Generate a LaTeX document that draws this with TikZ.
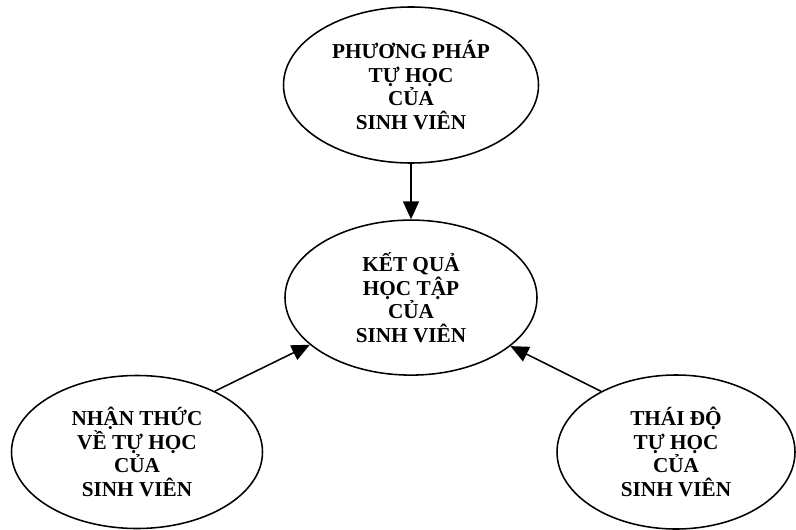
\documentclass[tikz,border=0pt]{standalone}
\usepackage{fontspec}
\setmainfont{Liberation Serif}
\usetikzlibrary{shapes.geometric, arrows.meta}

\begin{document}
\begin{tikzpicture}
        \tikzstyle{bubble}=[ellipse, draw=black, line width=1.1pt, inner sep=0pt, align=center, font=\fontsize{15.1}{16.7}\selectfont\bfseries];
        \tikzstyle{link}=[-{Triangle[length=0.45cm, width=0.4cm]}, line width=1.1pt];

        \useasboundingbox (0, 0) rectangle (19.9, -13.225);

        \node[bubble, minimum width=6.3cm, minimum height=3.875cm] (0) at (10.275, -7.44) {KẾT QUẢ\\HỌC TẬP\\CỦA\\SINH VIÊN};
        \node[bubble, minimum width=6.375cm, minimum height=3.9cm] (1) at (10.275, -2.125) {PHƯƠNG PHÁP\\TỰ HỌC\\CỦA\\SINH VIÊN};
        \node[bubble, minimum width=6.275cm, minimum height=3.825cm] (2) at (3.425, -11.3) {NHẬN THỨC\\VỀ TỰ HỌC\\CỦA\\SINH VIÊN};
        \node[bubble, minimum width=5.95cm, minimum height=3.85cm] (3) at (16.9, -11.3) {THÁI ĐỘ\\TỰ HỌC\\CỦA\\SINH VIÊN};

        \draw[link] (1.south) -- (0.north);
        \draw[link] (2.38) -- (0.205);
        \draw[link] (3.141) -- (0.-26);

    \end{tikzpicture}
\end{document}
